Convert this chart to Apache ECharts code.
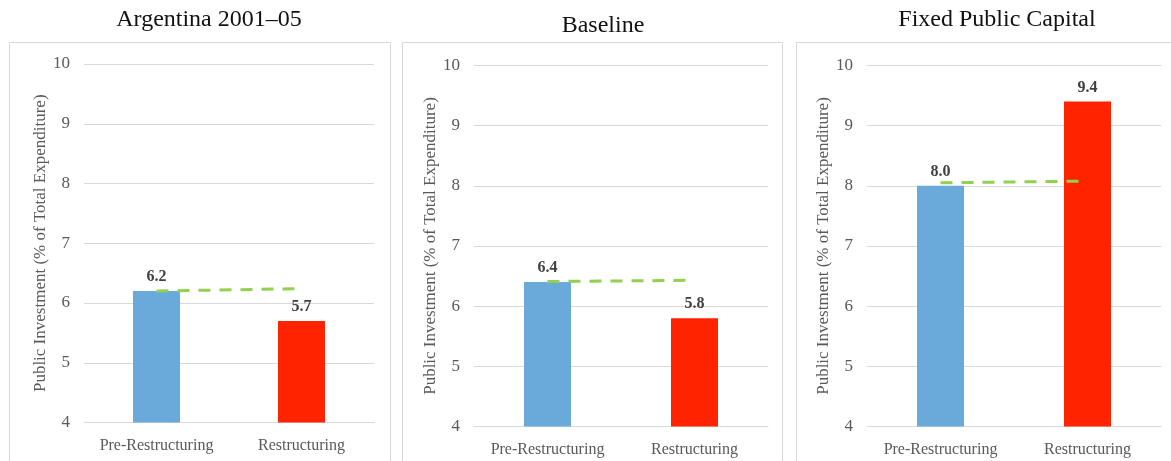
<!DOCTYPE html>
<html>
<head>
<meta charset="utf-8">
<script src="https://cdn.jsdelivr.net/npm/echarts@6/dist/echarts.min.js"></script>
<style>
  html, body { margin: 0; padding: 0; background: #fff; }
  #chart { width: 1171px; height: 461px; }
</style>
</head>
<body>
<div id="chart"></div>
<script>
// Public investment shares, before and during debt restructuring
const categories = ['Pre-Restructuring', 'Restructuring'];
const panelTitles = ['Argentina 2001\u201305', 'Baseline', 'Fixed Public Capital'];
const preRestructuring = [6.2, 6.4, 8.0];
const restructuring = [5.7, 5.8, 9.4];
// dashed reference path drawn from the pre-restructuring level
const refStart = [6.20, 6.41, 8.05];
const refEnd = [6.24, 6.43, 8.08];
const yTicks = [4, 5, 6, 7, 8, 9, 10];
const yName = 'Public Investment (% of Total Expenditure)';

const BLUE = '#6AAADB';
const RED = '#FF2300';
const GREEN = '#92D050';
const GRID_LINE = '#D9D9D9';
const SERIF = '"Liberation Serif", "Times New Roman", serif';

// plotting areas and frames for the three panels
const grids = [
  { left: 84, right: 797, top: 64, bottom: 38.5 },
  { left: 474, right: 403, top: 65.5, bottom: 34.5 },
  { left: 867, right: 10, top: 65.5, bottom: 34.5 }
];
const frames = [
  { x: 9.5, w: 381 },
  { x: 402.5, w: 380 },
  { x: 796.5, w: 400 }
];
const titleLayout = [
  { center: 204, top: 3 },
  { center: 598, top: 9 },
  { center: 992, top: 3 }
];

const chart = echarts.init(document.getElementById('chart'), null, { renderer: 'canvas' });

const option = {
  animation: false,
  backgroundColor: '#fff',
  title: panelTitles.map((t, i) => ({
    text: t,
    left: titleLayout[i].center,
    top: titleLayout[i].top,
    textAlign: 'center',
    textStyle: { fontFamily: SERIF, fontSize: 24, fontWeight: 'normal', color: '#111' }
  })),
  graphic: frames.map(f => ({
    type: 'rect',
    silent: true,
    z: -10,
    shape: { x: f.x, y: 42.5, width: f.w, height: 440 },
    style: { fill: '#fff', stroke: GRID_LINE, lineWidth: 1 }
  })),
  grid: grids.map(g => Object.assign({ containLabel: false }, g)),
  xAxis: grids.map((g, i) => ({
    type: 'category',
    gridIndex: i,
    data: categories,
    axisTick: { show: false },
    axisLine: { lineStyle: { color: GRID_LINE, width: 1 } },
    axisLabel: { interval: 0, fontFamily: SERIF, fontSize: 16, color: '#595959', margin: 15 }
  })),
  yAxis: grids.map((g, i) => ({
    type: 'value',
    gridIndex: i,
    min: yTicks[0],
    max: yTicks[yTicks.length - 1],
    interval: 1,
    name: yName,
    nameLocation: 'middle',
    nameRotate: 90,
    nameGap: 33,
    nameTextStyle: { fontFamily: SERIF, fontSize: 17, color: '#595959' },
    axisLine: { show: false },
    axisTick: { show: false },
    splitLine: { lineStyle: { color: GRID_LINE, width: 1 } },
    axisLabel: { fontFamily: SERIF, fontSize: 17, color: '#595959', margin: 14 }
  })),
  series: []
};

for (let i = 0; i < 3; i++) {
  option.series.push({
    type: 'bar',
    xAxisIndex: i,
    yAxisIndex: i,
    barWidth: 47,
    data: [
      { value: preRestructuring[i], itemStyle: { color: BLUE } },
      { value: restructuring[i], itemStyle: { color: RED } }
    ],
    label: {
      show: true,
      position: 'top',
      distance: 6,
      fontFamily: SERIF,
      fontSize: 16,
      fontWeight: 'bold',
      color: '#404040',
      formatter: p => p.value.toFixed(1)
    },
    z: 2
  });
  option.series.push({
    type: 'line',
    xAxisIndex: i,
    yAxisIndex: i,
    data: [refStart[i], refEnd[i]],
    symbol: 'none',
    lineStyle: { color: GREEN, width: 3, type: [12, 9] },
    z: 3
  });
}

chart.setOption(option);
</script>
</body>
</html>
